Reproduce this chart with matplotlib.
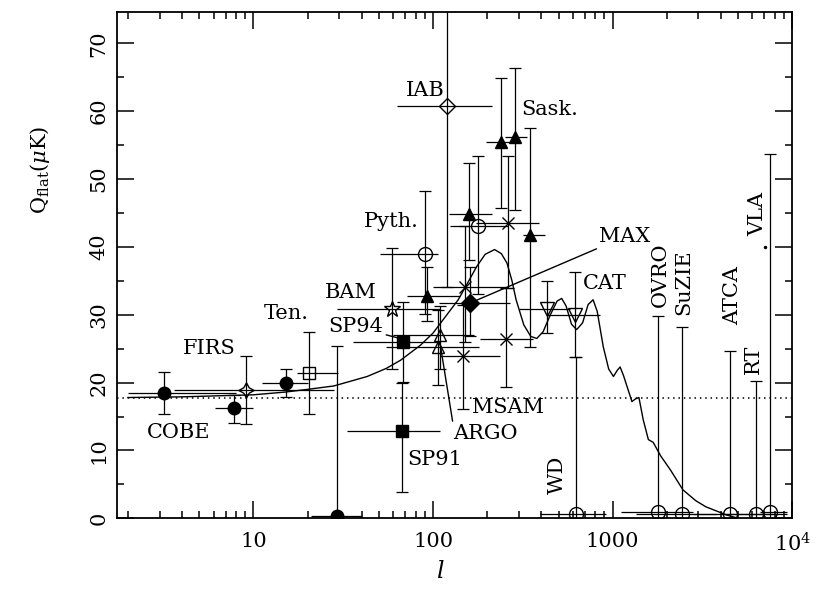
import numpy as np
import matplotlib
matplotlib.use('Agg')
import matplotlib.pyplot as plt
from matplotlib.ticker import FixedLocator, FixedFormatter, MultipleLocator, LogLocator, NullFormatter

plt.rcParams['font.family'] = 'DejaVu Serif'
plt.rcParams['mathtext.fontset'] = 'dejavuserif'

# CDM model Q_flat(l)
model_l = [2, 4, 10, 15, 20, 28, 43, 55, 66, 85, 100, 138, 150, 175, 195, 220, 240, 258, 275, 290,
           320, 350, 378, 410, 450, 490, 520, 550, 590, 630, 680, 730, 778, 820, 886, 950, 1010,
           1060, 1100, 1150, 1280, 1340, 1400, 1480, 1580, 1680, 1850, 2100, 2460, 2900, 3300, 4300, 5000]
model_q = [17.8, 17.9, 18.2, 18.6, 19.0, 19.5, 20.9, 22.1, 23.3, 25.5, 27.3, 32.2, 33.9, 37.1, 38.9, 39.6, 39.0, 37.6, 35.0, 32.2,
           28.5, 26.8, 26.5, 27.5, 30.0, 32.0, 32.4, 31.3, 28.6, 27.8, 28.8, 31.5, 32.2, 30.5, 25.3, 22.0, 20.9,
           21.8, 22.3, 21.0, 17.2, 17.6, 17.8, 14.5, 11.6, 11.2, 9.2, 7.1, 4.2, 2.6, 1.7, 0.5, 0.0]
flat_q = 17.8

# filled circles: COBE, ...
fc_l = [3.16, 7.8, 15.1, 29.1]
fc_q = [18.4, 16.2, 19.9, 0.3]
fc_qlo = [15.3, 14.0, 17.9, 0.0]
fc_qhi = [21.6, 18.2, 22.0, 25.4]
fc_llo = [2.0, 6.1, 11.2, 21.0]
fc_lhi = [8.0, 10.0, 20.2, 40.0]

# FIRS (four point star)
firs_l = [9.07]
firs_q = [18.9]
firs_qlo = [13.9]
firs_qhi = [23.9]
firs_llo = [3.6]
firs_lhi = [28.0]

# Tenerife
ten_l = [20.5]
ten_q = [21.4]
ten_qlo = [15.3]
ten_qhi = [27.4]
ten_llo = [17.4]
ten_lhi = [29.7]

# BAM
bam_l = [59.0]
bam_q = [30.9]
bam_qlo = [22.0]
bam_qhi = [39.9]
bam_llo = [29.0]
bam_lhi = [110.0]

# South Pole 91 / 94
sp_l = [68.4, 67.0]
sp_q = [26.0, 12.9]
sp_qlo = [20.1, 3.9]
sp_qhi = [31.9, 20.0]
sp_llo = [36.0, 33.0]
sp_lhi = [110.0, 109.0]

# ARGO
argo_l = [109.0, 107.0]
argo_q = [27.0, 25.3]
argo_qlo = [22.0, 19.6]
argo_qhi = [31.3, 30.7]
argo_llo = [60.0, 55.0]
argo_lhi = [170.0, 180.0]

# Saskatoon
sask_l = [92.5, 159.0, 240.0, 285.0, 348.0]
sask_q = [32.7, 44.9, 55.4, 56.2, 41.7]
sask_qlo = [29.0, 38.0, 45.7, 45.4, 25.3]
sask_qhi = [37.0, 52.3, 64.9, 66.4, 57.5]
sask_llo = [72.0, 123.0, 198.0, 250.0, 317.0]
sask_lhi = [141.0, 212.0, 290.0, 333.0, 418.0]

# Python
pyth_l = [90.1, 179.0]
pyth_q = [39.0, 43.1]
pyth_qlo = [30.1, 33.0]
pyth_qhi = [48.3, 53.4]
pyth_llo = [50.7, 124.0]
pyth_lhi = [107.0, 261.0]

# IAB
iab_l = [119.0]
iab_q = [60.7]
iab_qlo = [34.1]
iab_qhi = [100.0]
iab_llo = [62.8]
iab_lhi = [212.0]

# MAX
max_l = [160.0]
max_q = [31.7]
max_qlo = [26.9]
max_qhi = [37.1]
max_llo = [108.0]
max_lhi = [268.0]

# MSAM
msam_l = [146.0, 150.0, 255.0, 262.0]
msam_q = [23.9, 34.1, 26.4, 43.5]
msam_qlo = [16.1, 26.0, 19.3, 34.0]
msam_qhi = [31.5, 43.0, 34.0, 53.4]
msam_llo = [109.0, 100.0, 182.0, 174.0]
msam_lhi = [237.0, 260.0, 360.0, 388.0]

# CAT
cat_l = [433.0, 616.0]
cat_q = [30.9, 30.0]
cat_qlo = [27.3, 23.7]
cat_qhi = [35.0, 36.3]
cat_llo = [300.0, 430.0]
cat_lhi = [580.0, 850.0]

# upper limits: WD, OVRO, SuZIE, ATCA, RT, VLA
ul_l = [623.0, 1793.0, 2420.0, 4520.0, 6300.0, 7540.0]
ul_q = [0.6, 0.9, 0.7, 0.7, 0.7, 0.9]
ul_qlo = [0.0, 0.0, 0.0, 0.0, 0.0, 0.0]
ul_qhi = [23.7, 29.8, 28.2, 24.7, 20.3, 53.7]
ul_llo = [394.0, 1114.0, 1350.0, 2800.0, 3950.0, 6600.0]
ul_lhi = [920.0, 2790.0, 3740.0, 7800.0, 9300.0, 9300.0]

FS = 15


def draw_points(ax, l, q, qlo, qhi, llo, lhi, marker, filled, ms=9):
    l = np.array(l); q = np.array(q)
    ax.errorbar(l, q, xerr=[l - np.array(llo), np.array(lhi) - l], fmt='none',
                ecolor='k', elinewidth=0.9, capsize=0, zorder=3)
    ax.errorbar(l, q, yerr=[q - np.array(qlo), np.array(qhi) - q], fmt='none',
                ecolor='k', elinewidth=0.9, capsize=4.5, capthick=0.9, zorder=3)
    ax.plot(l, q, ls='none', marker=marker, color='k', mfc='k' if filled else 'none',
            mec='k', mew=1.0, ms=ms, zorder=4)


fig = plt.figure(figsize=(8.19, 5.89), dpi=100)
ax = fig.add_axes([0.1429, 0.12, 0.8245, 0.8596])

ax.plot(model_l, model_q, color='k', lw=1.0, zorder=2)
ax.axhline(flat_q, color='k', lw=1.1, ls=(0, (1, 2.5)), zorder=1)

draw_points(ax, fc_l, fc_q, fc_qlo, fc_qhi, fc_llo, fc_lhi, 'o', True, ms=9)
draw_points(ax, firs_l, firs_q, firs_qlo, firs_qhi, firs_llo, firs_lhi, (4, 1, 0), False, ms=11)
draw_points(ax, ten_l, ten_q, ten_qlo, ten_qhi, ten_llo, ten_lhi, 's', False, ms=8)
draw_points(ax, bam_l, bam_q, bam_qlo, bam_qhi, bam_llo, bam_lhi, '*', False, ms=12)
draw_points(ax, sp_l, sp_q, sp_qlo, sp_qhi, sp_llo, sp_lhi, 's', True, ms=8)
draw_points(ax, argo_l, argo_q, argo_qlo, argo_qhi, argo_llo, argo_lhi, '^', False, ms=9)
draw_points(ax, sask_l, sask_q, sask_qlo, sask_qhi, sask_llo, sask_lhi, '^', True, ms=9)
draw_points(ax, pyth_l, pyth_q, pyth_qlo, pyth_qhi, pyth_llo, pyth_lhi, 'o', False, ms=10)
draw_points(ax, iab_l, iab_q, iab_qlo, iab_qhi, iab_llo, iab_lhi, 'D', False, ms=8)
draw_points(ax, max_l, max_q, max_qlo, max_qhi, max_llo, max_lhi, 'D', True, ms=9)
draw_points(ax, msam_l, msam_q, msam_qlo, msam_qhi, msam_llo, msam_lhi, 'x', False, ms=9)
draw_points(ax, cat_l, cat_q, cat_qlo, cat_qhi, cat_llo, cat_lhi, 'v', False, ms=10)
draw_points(ax, ul_l, ul_q, ul_qlo, ul_qhi, ul_llo, ul_lhi, 'o', False, ms=10)

# labels
txt = dict(fontsize=FS, color='k', zorder=5)
ax.text(116.7, 63.1, 'IAB', ha='right', va='center', **txt)
ax.text(311.6, 60.2, 'Sask.', ha='left', va='center', **txt)
ax.text(82.8, 43.7, 'Pyth.', ha='right', va='center', **txt)
ax.text(48.6, 33.3, 'BAM', ha='right', va='center', **txt)
ax.text(20.2, 30.2, 'Ten.', ha='right', va='center', **txt)
ax.text(8.0, 25.05, 'FIRS', ha='right', va='center', **txt)
ax.text(2.55, 12.6, 'COBE', ha='left', va='center', **txt)
ax.text(71.4, 8.6, 'SP91', ha='left', va='center', **txt)
ax.text(164.2, 16.4, 'MSAM', ha='left', va='center', **txt)
ax.text(686, 34.6, 'CAT', ha='left', va='center', **txt)
ax.text(493, 6.4, 'WD', rotation=90, ha='center', va='center', **txt)
ax.text(1852, 35.9, 'OVRO', rotation=90, ha='center', va='center', **txt)
ax.text(2493, 34.8, 'SuZIE', rotation=90, ha='center', va='center', **txt)
ax.text(4671, 32.9, 'ATCA', rotation=90, ha='center', va='center', **txt)
ax.text(6059, 23.5, 'RT', rotation=90, ha='center', va='center', **txt)
ax.text(6461, 44.9, 'VLA', rotation=90, ha='center', va='center', **txt)
ax.plot([7039], [40.0], marker='.', color='k', ms=3)

# labels with leader lines
line = dict(arrowstyle='-', color='k', lw=1.0, shrinkA=0, shrinkB=0)
ax.annotate('MAX', xy=(max_l[0], max_q[0]), xytext=(842, 41.5), ha='left', va='center',
            fontsize=FS, arrowprops=line)
ax.annotate('SP94', xy=(sp_l[0] - 3, sp_q[0] + 0.5), xytext=(52.9, 28.2), ha='right', va='center',
            fontsize=FS, arrowprops=line)
ax.annotate('ARGO', xy=(argo_l[0], argo_q[0] - 1), xytext=(129.7, 12.5), ha='left', va='center',
            fontsize=FS, arrowprops=dict(arrowstyle='-', color='k', lw=1.0, shrinkA=0, shrinkB=0,
                                         relpos=(0, 0.9)))

ax.set_xscale('log')
ax.set_xlim(1.74, 10000)
ax.set_ylim(0, 74.6)

ax.xaxis.set_major_locator(FixedLocator([10, 100, 1000, 10000]))
ax.xaxis.set_major_formatter(FixedFormatter(['10', '100', '1000', r'$10^4$']))
ax.xaxis.set_minor_locator(LogLocator(base=10, subs=np.arange(2, 10)))
ax.xaxis.set_minor_formatter(NullFormatter())
ax.yaxis.set_major_locator(MultipleLocator(10))
ax.yaxis.set_minor_locator(MultipleLocator(5))

ax.tick_params(which='both', direction='in', top=True, right=True, width=1.1, labelsize=FS)
ax.tick_params(which='major', length=12)
ax.tick_params(which='minor', length=5)
ax.tick_params(axis='x', pad=10)
ax.tick_params(axis='y', pad=6)
for lab in ax.get_yticklabels():
    lab.set_rotation(90)
    lab.set_va('center')
for sp in ax.spines.values():
    sp.set_linewidth(1.3)

ax.set_xlabel(r'$\it{l}$', fontsize=FS + 2)
ax.xaxis.set_label_coords(0.478, -0.082)
ax.set_ylabel(r'Q$_{\rm flat}$($\mu$K)', fontsize=FS)
ax.yaxis.set_label_coords(-0.096, 0.688)

fig.savefig('out.png', dpi=100)
